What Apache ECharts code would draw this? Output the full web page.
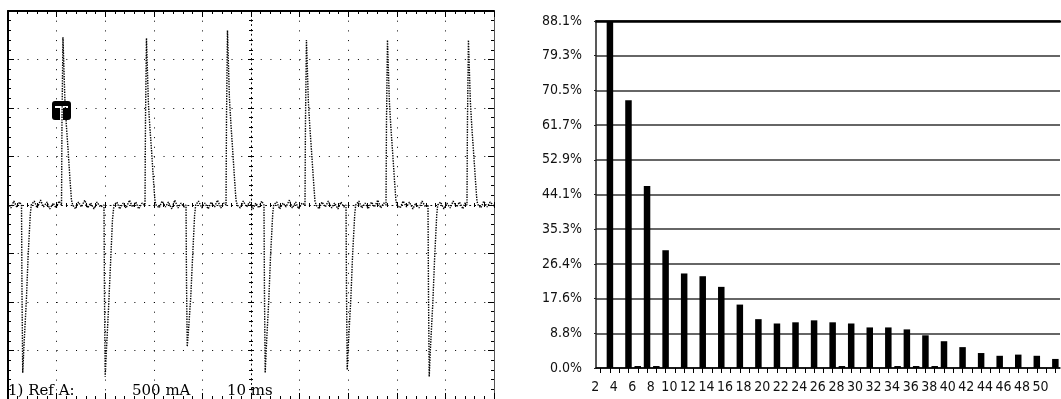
<!DOCTYPE html>
<html><head><meta charset="utf-8">
<script src="https://cdn.jsdelivr.net/npm/echarts@6/dist/echarts.min.js"></script>
<style>html,body{margin:0;padding:0;background:#fff}#c{width:1061px;height:399px}</style>
</head><body><div id="c"></div>
<script>
// ---------- Oscilloscope trace (time in ms, current in mA) ----------
const traceTimeMs = [
  0, 0.6, 1.2, 1.8, 2.4, 2.78,
  2.88, 3.03, 3.18, 3.28, 3.78, 4.13, 4.58, 4.78,
  5.4, 6.0, 6.7, 7.3, 8.0, 8.6, 9.3, 9.9, 10.5, 11.01,
  11.11, 11.31, 11.51, 11.71, 12.01, 12.36, 12.76, 13.06, 13.31,
  13.9, 14.5, 15.1, 15.8, 16.4, 17.0, 17.7, 18.3, 19.0, 19.75,
  19.85, 20.0, 20.15, 20.25, 20.7, 21.1, 21.5, 21.8,
  22.4, 23.0, 23.7, 24.3, 25.0, 25.6, 26.3, 26.9, 27.6, 28.19,
  28.29, 28.49, 28.69, 28.89, 29.19, 29.54, 29.94, 30.24, 30.49,
  31.1, 31.7, 32.4, 33.0, 33.7, 34.3, 35.0, 35.6, 36.2, 36.63,
  36.73, 36.88, 37.03, 37.13, 37.6, 38.0, 38.4, 38.63,
  39.2, 39.9, 40.5, 41.2, 41.8, 42.5, 43.1, 43.8, 44.4, 44.86,
  44.96, 45.16, 45.36, 45.56, 45.86, 46.21, 46.61, 46.91, 47.16,
  47.8, 48.4, 49.1, 49.7, 50.4, 51.0, 51.6, 52.2, 52.67,
  52.77, 52.92, 53.07, 53.17, 53.67, 54.02, 54.47, 54.67,
  55.3, 55.9, 56.6, 57.2, 57.9, 58.5, 59.2, 59.8, 60.5, 61.11,
  61.21, 61.41, 61.61, 61.81, 62.11, 62.46, 62.86, 63.16, 63.41,
  64.0, 64.6, 65.3, 65.9, 66.6, 67.2, 67.9, 68.5, 69.1, 69.55,
  69.65, 69.8, 69.95, 70.05, 70.55, 70.9, 71.35, 71.55,
  72.2, 72.8, 73.5, 74.1, 74.8, 75.4, 76.1, 76.7, 77.3, 77.78,
  77.88, 78.08, 78.28, 78.48, 78.78, 79.13, 79.53, 79.83, 80.08,
  80.7, 81.3, 82.0, 82.6, 83.3, 83.9, 84.6, 85.2, 85.9, 86.42,
  86.52, 86.67, 86.82, 86.92, 87.42, 87.77, 88.22, 88.42,
  89.0, 89.7, 90.3, 91.0, 91.6, 92.3, 92.9, 93.6, 94.0, 94.44,
  94.54, 94.74, 94.94, 95.14, 95.44, 95.79, 96.19, 96.49, 96.74,
  97.3, 97.9, 98.6, 99.2, 100
];
const traceCurrentMa = [
  20, -30, 40, -20, 30, 0,
  -900, -1730, -1730, -1460, -980, -540, -100, 0,
  40, -30, 50, -20, 30, -40, 20, -30, 40, 0,
  880, 1730, 1740, 1080, 820, 570, 260, 50, 0,
  -40, 30, -20, 50, -30, 20, -40, 30, -20, 0,
  -900, -1770, -1770, -1500, -1050, -600, -150, 0,
  30, -40, 20, -30, 50, -20, 30, -40, 20, 0,
  880, 1720, 1730, 1050, 800, 560, 250, 40, 0,
  -30, 40, -20, 30, -40, 50, -30, 20, -20, 0,
  -800, -1460, -1460, -1300, -950, -520, -100, 0,
  40, -30, 20, -40, 30, -20, 50, -30, 20, 0,
  900, 1800, 1790, 1100, 840, 580, 270, 50, 0,
  -30, 40, -20, 30, -40, 20, -30, 40, 0,
  -900, -1730, -1730, -1450, -970, -530, -90, 0,
  30, -40, 20, -20, 50, -30, 30, -40, 20, 0,
  870, 1700, 1710, 1060, 800, 550, 250, 40, 0,
  -40, 30, -20, 40, -30, 20, -40, 30, -20, 0,
  -880, -1700, -1700, -1420, -960, -520, -90, 0,
  40, -30, 20, -40, 30, -20, 50, -30, 20, 0,
  870, 1700, 1710, 1060, 800, 550, 250, 40, 0,
  -30, 40, -20, 30, -40, 20, -30, 40, -20, 0,
  -900, -1770, -1770, -1480, -1000, -560, -100, 0,
  30, -40, 20, -30, 40, -20, 30, -40, 20, 0,
  870, 1700, 1710, 1060, 800, 550, 250, 40, 0,
  -30, 40, -20, 30, -10
];
const scopeLabels = ['1) Ref A:', '500 mA', '10 ms'];

// ---------- Harmonic spectrum ----------
const harmonicOrders = ['2','3','4','5','6','7','8','9','10','11','12','13','14','15','16','17','18','19','20','21',
  '22','23','24','25','26','27','28','29','30','31','32','33','34','35','36','37','38','39','40','41',
  '42','43','44','45','46','47','48','49','50','51'];
const harmonicPercent = [0, 88.1, 0, 68.0, 0.5, 46.2, 0.5, 29.9, 0, 24.0, 0, 23.3, 0, 20.6, 0, 16.1, 0, 12.4, 0, 11.3,
  0, 11.6, 0, 12.1, 0, 11.6, 0.5, 11.3, 0, 10.3, 0, 10.3, 0.5, 9.8, 0.5, 8.3, 0.5, 6.8, 0, 5.3,
  0, 3.8, 0, 3.1, 0, 3.4, 0, 3.1, 0, 2.3];
const yTickLabels = ['0.0%','8.8%','17.6%','26.4%','35.3%','44.1%','52.9%','61.7%','70.5%','79.3%','88.1%'];

const narrow = "'DejaVu Sans Condensed', 'Liberation Sans Narrow', sans-serif";
const blk = '#000';

function borderAxisCommon(extra) {
  return Object.assign({
    gridIndex: 0, type: 'value',
    axisLabel: { show: false },
    splitLine: { show: false }
  }, extra);
}

const chart = echarts.init(document.getElementById('c'), null, { renderer: 'canvas' });
chart.setOption({
  animation: false,
  backgroundColor: '#fff',
  grid: [
    { left: 8, top: 11, width: 486, height: 388 },
    { left: 596, top: 21, right: 1, bottom: 31 }
  ],
  xAxis: [
    borderAxisCommon({ min: 0, max: 100, interval: 10, position: 'bottom',
      axisLine: { show: false, onZero: false },
      axisTick: { show: true, inside: true, length: 6, lineStyle: { color: blk } },
      minorTick: { show: true, splitNumber: 5, length: 3, lineStyle: { color: blk } },
      splitLine: { show: true, lineStyle: { color: blk, width: 1, type: [1, 8.7] } } }),
    borderAxisCommon({ min: 0, max: 100, interval: 10, position: 'top',
      axisLine: { show: true, onZero: false, lineStyle: { color: blk, width: 2 } },
      axisTick: { show: true, inside: true, length: 6, lineStyle: { color: blk } },
      minorTick: { show: true, splitNumber: 5, length: 3, lineStyle: { color: blk } } }),
    borderAxisCommon({ min: 0, max: 100, interval: 10, position: 'bottom',
      axisLine: { show: true, onZero: true, onZeroAxisIndex: 0, lineStyle: { color: blk, width: 1, type: [1, 3.86] } },
      axisTick: { show: true, inside: false, length: 3, lineStyle: { color: blk } },
      minorTick: { show: true, splitNumber: 5, length: 2, lineStyle: { color: blk } } }),
    borderAxisCommon({ min: 0, max: 100, interval: 10, position: 'bottom',
      axisLine: { show: false, onZero: true, onZeroAxisIndex: 0 },
      axisTick: { show: true, inside: true, length: 3, lineStyle: { color: blk } },
      minorTick: { show: true, splitNumber: 5, length: 2, lineStyle: { color: blk } } }),
    { gridIndex: 0, type: 'value', min: -50, max: 50, show: false, axisLine: { onZero: false } },
    { gridIndex: 1, type: 'category', data: harmonicOrders, position: 'bottom',
      axisLine: { show: true, lineStyle: { color: blk, width: 1.5 } },
      axisTick: { show: true, interval: 0, alignWithLabel: true, length: 5, lineStyle: { color: blk } },
      axisLabel: { interval: 1, color: '#111', fontFamily: narrow, fontSize: 14, margin: 12, padding: [0, 11, 0, 0] },
      splitLine: { show: false } },
    { gridIndex: 1, type: 'category', data: harmonicOrders, position: 'top',
      axisLine: { show: true, onZero: false, lineStyle: { color: blk, width: 2.5 } },
      axisTick: { show: false }, axisLabel: { show: false } }
  ],
  yAxis: [
    borderAxisCommon({ min: -2000, max: 2000, interval: 500, position: 'left',
      axisLine: { show: true, onZero: false, lineStyle: { color: blk, width: 2 } },
      axisTick: { show: true, inside: true, length: 6, lineStyle: { color: blk } },
      minorTick: { show: true, splitNumber: 5, length: 3, lineStyle: { color: blk } },
      splitLine: { show: true, lineStyle: { color: blk, width: 1, type: [1, 8.72] } } }),
    borderAxisCommon({ min: -2000, max: 2000, interval: 500, position: 'right',
      axisLine: { show: true, onZero: false, lineStyle: { color: '#555', width: 1 } },
      axisTick: { show: true, inside: true, length: 6, lineStyle: { color: blk } },
      minorTick: { show: true, splitNumber: 5, length: 3, lineStyle: { color: blk } } }),
    borderAxisCommon({ min: -2000, max: 2000, interval: 500, position: 'left',
      axisLine: { show: true, onZero: true, onZeroAxisIndex: 4, lineStyle: { color: blk, width: 1, type: [1, 3.85] } },
      axisTick: { show: true, inside: false, length: 3, lineStyle: { color: blk } },
      minorTick: { show: true, splitNumber: 5, length: 2, lineStyle: { color: blk } } }),
    borderAxisCommon({ min: -2000, max: 2000, interval: 500, position: 'left',
      axisLine: { show: false, onZero: true, onZeroAxisIndex: 4 },
      axisTick: { show: true, inside: true, length: 3, lineStyle: { color: blk } },
      minorTick: { show: true, splitNumber: 5, length: 2, lineStyle: { color: blk } } }),
    { gridIndex: 1, type: 'value', min: 0, max: 88.1, interval: 8.81,
      axisLine: { show: true, lineStyle: { color: '#222', width: 1.5 } },
      axisTick: { show: true, length: 2, lineStyle: { color: '#222' } },
      axisLabel: { color: '#111', fontFamily: narrow, fontSize: 14, margin: 14,
        formatter: function (v) { return yTickLabels[Math.round(v / 8.81)]; } },
      splitLine: { show: true, lineStyle: { color: '#333', width: 1.5 } } }
  ],
  series: [
    { type: 'line', xAxisIndex: 0, yAxisIndex: 0, symbol: 'none', silent: true,
      data: traceTimeMs.map(function (t, k) { return [t, traceCurrentMa[k]]; }),
      lineStyle: { color: '#000', width: 1.4, type: [1.4, 1.2] } },
    { type: 'bar', xAxisIndex: 5, yAxisIndex: 4, barWidth: 6.5, silent: true,
      data: harmonicPercent, itemStyle: { color: '#000' } }
  ],
  graphic: [
    { type: 'text', x: 8, y: 391, style: { text: scopeLabels[0], font: '15px "DejaVu Serif"', fill: '#000', verticalAlign: 'middle' } },
    { type: 'text', x: 132, y: 391, style: { text: scopeLabels[1], font: '15px "DejaVu Serif"', fill: '#000', verticalAlign: 'middle' } },
    { type: 'text', x: 227, y: 391, style: { text: scopeLabels[2], font: '15px "DejaVu Serif"', fill: '#000', verticalAlign: 'middle' } },
    { type: 'group', x: 52, y: 101, children: [
      { type: 'rect', shape: { x: 0, y: 0, width: 19, height: 19, r: 3 }, style: { fill: '#000' } },
      { type: 'rect', shape: { x: 3, y: 5, width: 13, height: 2 }, style: { fill: '#fff' } },
      { type: 'rect', shape: { x: 8, y: 7, width: 3, height: 12 }, style: { fill: '#fff' } }
    ] }
  ]
});
</script></body></html>
